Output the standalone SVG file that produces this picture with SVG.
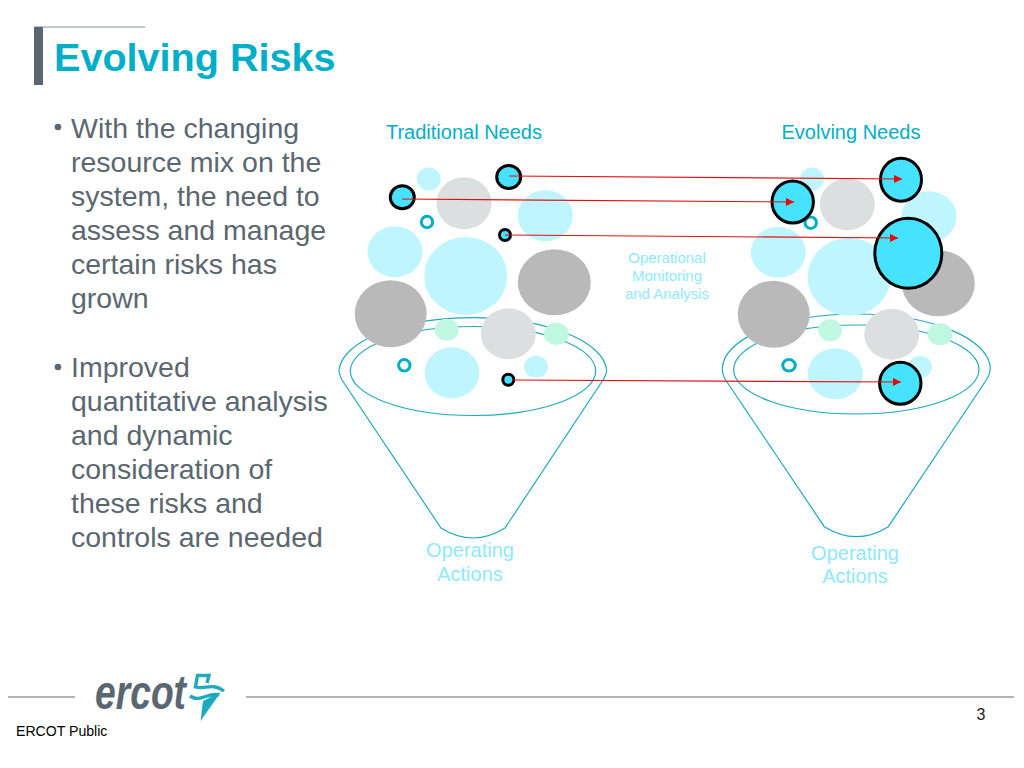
<svg xmlns="http://www.w3.org/2000/svg" width="1024" height="768" viewBox="0 0 1024 768">
<style>
text{font-family:"Liberation Sans",Arial,sans-serif}
.body{font-size:28.5px;fill:#5b6770}
.hd{font-size:20px;fill:#00aec7}
.lt{fill:#bff5ff}.lg{fill:#dcdfe0}.dg{fill:#b9b9b9}.gr{fill:#bff7e2}
.ring{fill:#fff;stroke:#00aec7;stroke-width:3}
.hot{fill:#47e2ff;stroke:#000;stroke-width:3}
.fn{fill:none;stroke:#1fa9bf;stroke-width:1.2}
.pale{fill:#8fe8fb}
.ar{stroke:#e01010;stroke-width:1.2;fill:none;marker-end:url(#ah)}
.mark{fill:none;stroke:#1fa9bf;stroke-width:3.4;stroke-linejoin:miter}
</style>
<defs><marker id="ah" markerUnits="userSpaceOnUse" markerWidth="10" markerHeight="8" refX="8" refY="4" orient="auto"><path d="M0 0L8 4L0 8Z" fill="#f00000"/></marker></defs>
<rect width="1024" height="768" fill="#fff"/>
<g id="title">
<path d="M34 27H145" stroke="#8a9096" stroke-width="1"/>
<rect x="34" y="27" width="9" height="58" fill="#5b6770"/>
<text x="54" y="71" font-size="39.6" font-weight="700" fill="#00aec7">Evolving Risks</text>
</g>
<g id="bullets">
<circle cx="58" cy="127" r="3.3" fill="#5b6770"/>
<text class="body" x="71" y="137.5">With the changing</text>
<text class="body" x="71" y="171.5">resource mix on the</text>
<text class="body" x="71" y="205.5">system, the need to</text>
<text class="body" x="71" y="239.5">assess and manage</text>
<text class="body" x="71" y="273.5">certain risks has</text>
<text class="body" x="71" y="307.5">grown</text>
<circle cx="58" cy="367" r="3.3" fill="#5b6770"/>
<text class="body" x="71" y="376.5">Improved</text>
<text class="body" x="71" y="410.5">quantitative analysis</text>
<text class="body" x="71" y="444.5">and dynamic</text>
<text class="body" x="71" y="478.5">consideration of</text>
<text class="body" x="71" y="512.5">these risks and</text>
<text class="body" x="71" y="546.5">controls are needed</text>
</g>
<g id="funnel-left">
<path class="fn" d="M339 370A134 55 0 0 1 606.7 370Q606.5 374 603 380L505 528Q473 548 441 528L342 380Q339 374 339 370Z"/>
<ellipse class="fn" cx="473" cy="371" rx="122.7" ry="44.5"/>
</g>
<g id="funnel-right">
<path class="fn" d="M722.3 369A134 55 0 0 1 990.3 369Q990 374 987 379L888.3 526.7Q856.3 546.5 824.3 526.7L725 379Q722.3 374 722.3 369Z"/>
<ellipse class="fn" cx="856.3" cy="369.5" rx="122.7" ry="44.5"/>
</g>
<g id="bubbles-left">
<ellipse class="lt" cx="428.7" cy="179" rx="12" ry="11.5"/>
<ellipse class="lg" cx="464" cy="203.3" rx="27.5" ry="26"/>
<ellipse class="lt" cx="545.3" cy="215.7" rx="27.5" ry="25.5"/>
<ellipse class="lt" cx="395" cy="251.7" rx="27.5" ry="25.5"/>
<ellipse class="lt" cx="465.7" cy="276" rx="41.5" ry="39"/>
<ellipse class="dg" cx="554.3" cy="282.3" rx="36.5" ry="33"/>
<ellipse class="dg" cx="390.7" cy="313.7" rx="36" ry="33.5"/>
<ellipse class="gr" cx="446.7" cy="329.7" rx="12" ry="11"/>
<ellipse class="lg" cx="508.3" cy="333.7" rx="27.5" ry="25.5"/>
<ellipse class="gr" cx="556.3" cy="333.7" rx="12.5" ry="11"/>
<ellipse class="lt" cx="452" cy="372.7" rx="27.5" ry="25.5"/>
<ellipse class="lt" cx="536" cy="366.7" rx="12" ry="11"/>
<circle class="ring" cx="427" cy="222" r="5.7"/>
<circle class="ring" cx="404.3" cy="365.3" r="5.7"/>
<ellipse class="hot" cx="508.7" cy="177" rx="12" ry="11.5"/>
<ellipse class="hot" cx="402.3" cy="197.3" rx="12" ry="11.5"/>
<circle class="hot" cx="505" cy="235" r="5.5"/>
<circle class="hot" cx="508.3" cy="379.7" r="5.5"/>
</g>
<g id="bubbles-right">
<ellipse class="lt" cx="812" cy="179" rx="12" ry="11.5"/>
<ellipse class="lg" cx="847.3" cy="204.3" rx="27.5" ry="26"/>
<ellipse class="lt" cx="929" cy="216.7" rx="27.5" ry="25.5"/>
<ellipse class="lt" cx="778.3" cy="252.3" rx="27.5" ry="25.5"/>
<ellipse class="lt" cx="849" cy="277" rx="41.5" ry="39"/>
<ellipse class="dg" cx="938.3" cy="283.3" rx="36.5" ry="33"/>
<ellipse class="dg" cx="773.7" cy="314.3" rx="36" ry="33.5"/>
<ellipse class="gr" cx="830" cy="330.3" rx="12" ry="11"/>
<ellipse class="lg" cx="891.7" cy="334.3" rx="27.5" ry="25.5"/>
<ellipse class="gr" cx="940" cy="334.3" rx="12.5" ry="11"/>
<ellipse class="lt" cx="835.3" cy="373.7" rx="27.5" ry="25.5"/>
<ellipse class="lt" cx="920" cy="367" rx="12" ry="11"/>
<circle class="ring" cx="810.7" cy="222.7" r="5.7"/>
<ellipse class="ring" cx="789" cy="365.3" rx="6.3" ry="5.7"/>
<ellipse class="hot" cx="901" cy="179.7" rx="20.5" ry="21.5"/>
<ellipse class="hot" cx="792.7" cy="202" rx="20.7" ry="21"/>
<ellipse class="hot" cx="908.3" cy="253.3" rx="33.5" ry="35"/>
<ellipse class="hot" cx="900.3" cy="383.3" rx="20.7" ry="21"/>
</g>
<g id="connectors">
<path class="ar" d="M509 176L902 179"/>
<path class="ar" d="M402 199L794 202"/>
<path class="ar" d="M505 235L898 238"/>
<path class="ar" d="M512 380L901 382"/>
</g>
<g id="labels">
<text class="hd" x="464" y="139" text-anchor="middle">Traditional Needs</text>
<text class="hd" x="851" y="139" text-anchor="middle">Evolving Needs</text>
<text class="pale" font-size="15" text-anchor="middle"><tspan x="667" y="263">Operational</tspan><tspan x="667" y="281">Monitoring</tspan><tspan x="667" y="299">and Analysis</tspan></text>
<text class="pale" font-size="20" text-anchor="middle"><tspan x="470" y="557">Operating</tspan><tspan x="470" y="581">Actions</tspan></text>
<text class="pale" font-size="20" text-anchor="middle"><tspan x="855" y="560">Operating</tspan><tspan x="855" y="583">Actions</tspan></text>
</g>
<g id="footer">
<path d="M8 697H75M246 697H1014" stroke="#9a9a9a" stroke-width="1.3"/>
<text x="95" y="709" font-size="48" font-weight="700" font-style="italic" fill="#5b6770" textLength="91" lengthAdjust="spacingAndGlyphs">ercot</text>
<path class="mark" d="M207 683L209 675.5H197.5L195.5 687C205 690 212 682 224 691"/>
<path class="mark" d="M190 696C200 703 208 692 219 695"/>
<path d="M221 692L200.5 721L203 701Z" fill="#1fa9bf"/>
<text x="16" y="736" font-size="14.1" fill="#000">ERCOT Public</text>
<text x="981" y="720" font-size="16" fill="#222" text-anchor="middle">3</text>
</g>
</svg>
